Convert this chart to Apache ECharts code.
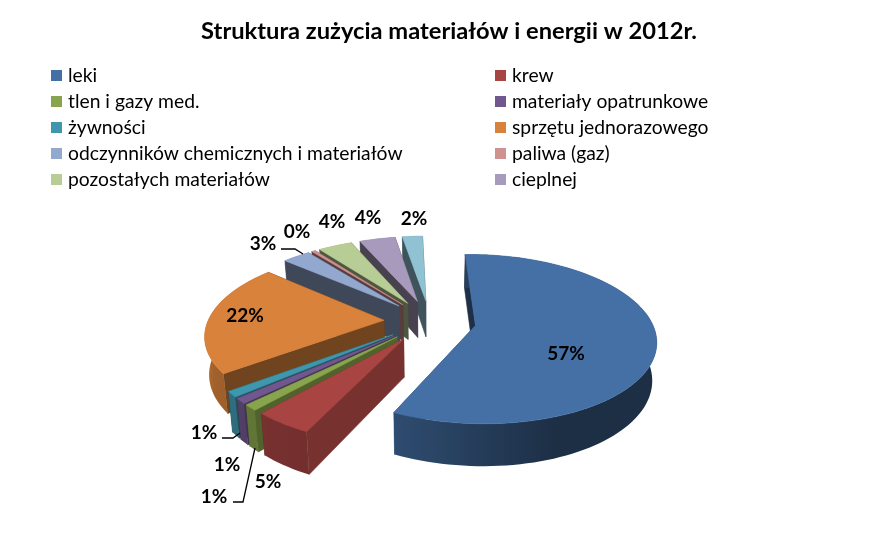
<!DOCTYPE html>
<html><head><meta charset="utf-8">
<style>html,body{margin:0;padding:0;background:#fff}#c{width:889px;height:533px}</style>
<script src="https://cdn.jsdelivr.net/npm/echarts@6/dist/echarts.min.js"></script>
</head><body><div id="c"></div>
<script>
const titleText = 'Struktura zużycia materiałów i energii w 2012r.';
const categories = ['leki','krew','tlen i gazy med.','materiały opatrunkowe','żywności','sprzętu jednorazowego','odczynników chemicznych i materiałów','paliwa (gaz)','pozostałych materiałów','cieplnej','elektrycznej'];
const values = [57.49,4.5,1.1,1.0,1.1,21.6,3.0,0.4,3.7,3.9,2.2];
const colors = ['#4470A5','#A84543','#88A44C','#70578E','#3F97AE','#D8823B','#92A8CE','#CF9291','#B8CC95','#A89ABC','#90C2D4'];

// layout constants of the projected disc
const CX=430, CY=321, RX=176, RY=81, PERSP=0.16, EXPL=0.262, H=37, BOTTOM=0.98;
const total = values.reduce((a,b)=>a+b,0);
const start = -1.5;
let acc = 0;
const spans = values.map(v=>{const a=start+acc/total*360; acc+=v; return [a,start+acc/total*360];});
const rad = d=>d*Math.PI/180;
function project(X,Y,low){
  const s=1/(1+PERSP*Y), q=low?BOTTOM:1;
  return [CX+X*RX*s*q, CY-Y*RY*s*q+(low?H*s:0)];
}
function shade(hex,b){
  const n=parseInt(hex.slice(1),16);
  return 'rgb('+[(n>>16)&255,(n>>8)&255,n&255].map(c=>Math.round(c*b)).join(',')+')';
}
function lerpTable(table,t){
  t=((t%360)+360)%360;
  if(t<=table[0][0]) return table[0][1];
  for(let k=1;k<table.length;k++){ if(t<=table[k][0]){const [a,u]=table[k-1],[b,v]=table[k];return u+(v-u)*(t-a)/(b-a);} }
  return table[table.length-1][1];
}
const wallLight=[[160,.42],[205,.68],[270,.8]];
const radialLight=[[205,.71],[233,.52],[320,.42],[358,.43]];
function poly(points,fill){ return {type:'polygon',shape:{points},silent:true,style:{fill,stroke:fill,lineWidth:.6}}; }

function sliceRender(i){
  return function(){
    const [a0,a1]=spans[i], mid=(a0+a1)/2;
    const dx=EXPL*Math.sin(rad(mid)), dy=EXPL*Math.cos(rad(mid));
    const pt=a=>[dx+Math.sin(rad(a)),dy+Math.cos(rad(a))];
    const n=Math.max(2,Math.ceil((a1-a0)/2));
    const arc=[]; for(let k=0;k<=n;k++) arc.push(a0+(a1-a0)*k/n);
    const wall=(a)=>{const p=pt(a);return poly([project(dx,dy,false),project(p[0],p[1],false),project(p[0],p[1],true),project(dx,dy,true)],shade(colors[i],lerpTable(radialLight,a)));};
    // outer wall as one polygon, shaded along x from its camera-facing part
    const upper=arc.map(a=>{const p=pt(a);return project(p[0],p[1],false);});
    const lower=arc.map(a=>{const p=pt(a);return project(p[0],p[1],true);}).reverse();
    const front=arc.filter(a=>Math.cos(rad(a))<0.1);
    let fill=shade(colors[i],lerpTable(wallLight,mid));
    if(front.length>1){
      const xs=front.map(a=>{const p=pt(a);return project(p[0],p[1],false)[0];});
      const lo=Math.min(...xs),hi=Math.max(...xs);
      if(hi-lo>1){
        const stops=front.map((a,k)=>({offset:(xs[k]-lo)/(hi-lo),color:shade(colors[i],lerpTable(wallLight,a))})).sort((u,v)=>u.offset-v.offset);
        fill={type:'linear',global:true,x:lo,y:0,x2:hi,y2:0,colorStops:stops};
      }
    }
    const outer={type:'polygon',shape:{points:upper.concat(lower)},silent:true,style:{fill}};
    const backFacing=Math.cos(rad(mid))>0.1;
    const kids=backFacing?[outer,wall(a1),wall(a0)]:[wall(a1),wall(a0),outer];
    const top=[project(dx,dy,false)].concat(upper);
    kids.push(poly(top,colors[i]));
    return {type:'group',children:kids};
  };
}
// paint far slices first
const order = values.map((v,i)=>i).sort((a,b)=>Math.cos(rad((spans[b][0]+spans[b][1])/2))-Math.cos(rad((spans[a][0]+spans[a][1])/2)));
const series = order.map(i=>({
  type:'custom',name:categories[i],coordinateSystem:'none',silent:true,animation:false,
  itemStyle:{color:colors[i]},data:[[values[i]]],renderItem:sliceRender(i)
}));

const percent = values.map(v=>Math.round(v/total*100)+'%');
const labelAt = [[566,354],[268,482],[214,497],[227,465],[204,433],[245,316],[263,244],[297,232],[332,222],[368,218],[414,219]];
const leaders = [
  [[281,249],[295,249],[303,254]],
  [[222,438],[233,438],[240,433]],
  [[233,502],[243,502],[255,448]]
];
const FONT='Lato';
const graphic = [
  ...leaders.map(p=>({type:'polyline',silent:true,z:50,shape:{points:p},style:{stroke:'#000',lineWidth:1.3,fill:null}})),
  ...percent.map((t,i)=>({type:'text',silent:true,z:60,x:labelAt[i][0],y:labelAt[i][1],style:{text:t,fill:'#000',font:'bold 19px '+FONT,align:'center',verticalAlign:'middle'}}))
];
const legendBase={orient:'vertical',top:65,icon:'rect',itemWidth:11,itemHeight:11,itemGap:5,selectedMode:false,textStyle:{fontFamily:FONT,fontSize:19.3,color:'#000',height:21,lineHeight:21,padding:[0,0,0,1]},padding:0};
const chart=echarts.init(document.getElementById('c'),null,{renderer:'canvas'});
chart.setOption({
  backgroundColor:'#fff',animation:false,
  title:{text:titleText,left:449,textAlign:'center',top:19,padding:0,textStyle:{fontFamily:FONT,fontWeight:'bold',fontSize:23.7,color:'#000'}},
  legend:[
    {...legendBase,left:51,data:categories.filter((c,i)=>i%2===0&&i<10)},
    {...legendBase,left:495,data:categories.filter((c,i)=>i%2===1&&i<10)}
  ],
  series,graphic
});
</script></body></html>
